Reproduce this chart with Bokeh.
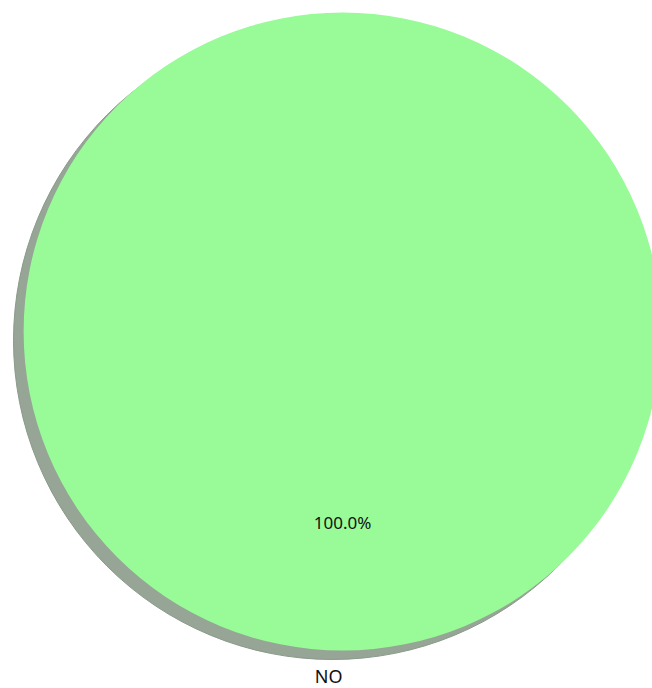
import numpy as np
from bokeh.plotting import figure
from bokeh.models import ColumnDataSource
from bokeh.core.properties import value
from bokeh.embed import file_html
from bokeh.resources import INLINE

# Data
labels = ["NO"]
values = [100.0]
colors = ["#98FB98"]

W, H = 652, 688
cx, cy, r = 342, H - 331, 319
sx, sy = -10, -9  # shadow offset

vals = np.array(values, dtype=float)
frac = vals / vals.sum()
start_deg = 90.0
ends = start_deg + np.cumsum(frac) * 360.0
starts = ends - frac * 360.0
mids = np.deg2rad((starts + ends) / 2.0)

src = ColumnDataSource(dict(
    start=np.deg2rad(starts), end=np.deg2rad(ends), color=colors,
    label=labels, pct=[f"{f*100:.1f}%" for f in frac],
    lx=cx + 1.1 * r * np.cos(mids), ly=cy + 1.1 * r * np.sin(mids) + 6,
    px=cx + 0.6 * r * np.cos(mids), py=cy + 0.6 * r * np.sin(mids),
))

p = figure(width=W, height=H, x_range=(0, W), y_range=(0, H),
           output_backend="svg", toolbar_location=None, min_border=0)
p.axis.visible = False
p.grid.visible = False
p.outline_line_color = None
p.background_fill_color = "white"
p.border_fill_color = "white"

# shadow
p.wedge(x=cx + sx, y=cy + sy, radius=r, start_angle="start", end_angle="end",
        source=src, fill_color="#96a596", line_color="#8a9a8a", line_width=1)
# pie
p.wedge(x=cx, y=cy, radius=r, start_angle="start", end_angle="end",
        source=src, fill_color="color", line_color=None)

p.text(x="px", y="py", text="pct", source=src, text_align="center",
       text_baseline="middle", text_font=value("Noto Sans"), text_font_size="17px",
       text_color="#111111")
p.text(x="lx", y="ly", text="label", source=src, text_align="right",
       text_baseline="middle", text_font=value("Noto Sans"), text_font_size="18px",
       text_color="#111111")

open("out.html", "w").write(file_html(p, INLINE))
